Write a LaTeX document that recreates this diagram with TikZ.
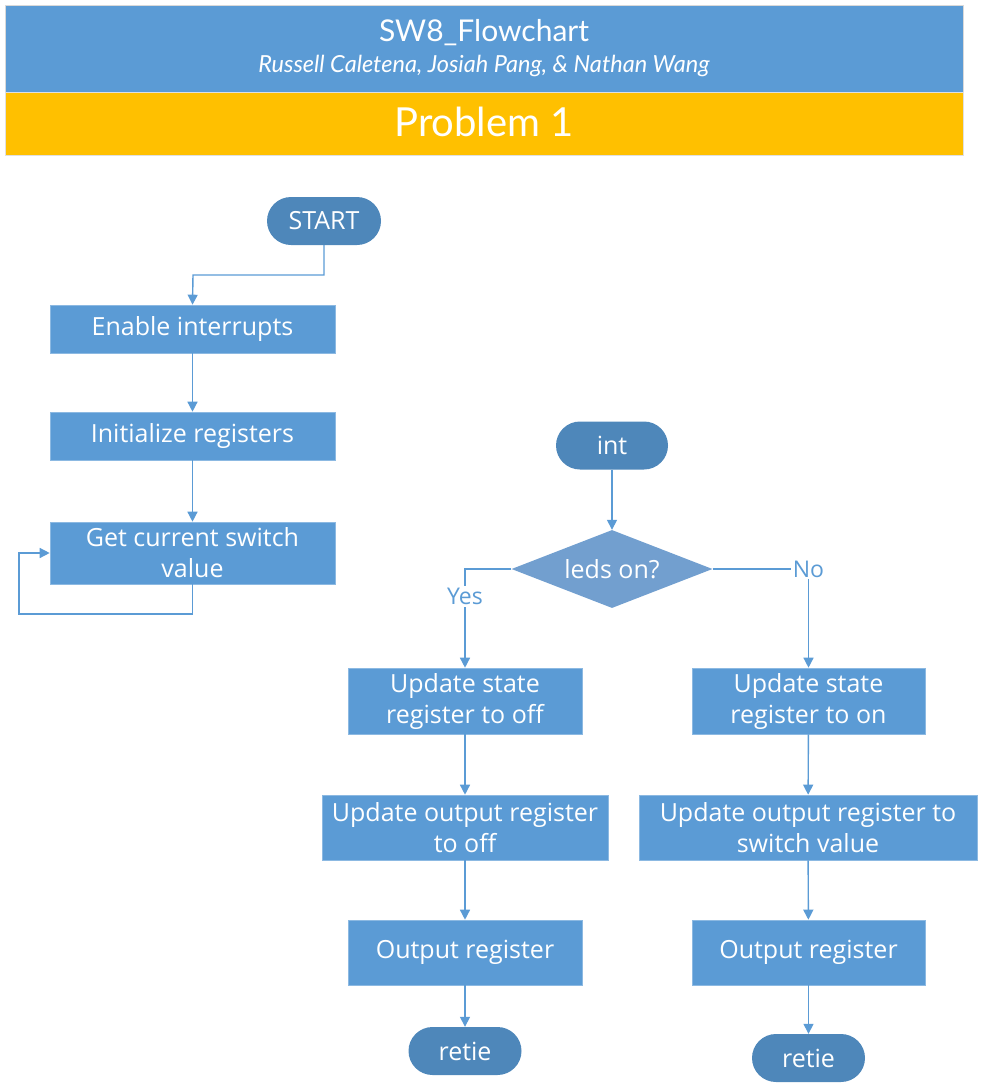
\documentclass[tikz,border=0pt]{standalone}
\usepackage{fontspec}
\setmainfont{Open Sans}
\newfontfamily\headfont{Lato}
\usetikzlibrary{arrows.meta,shapes.geometric}
\definecolor{boxblue}{HTML}{5B9BD5}
\definecolor{pillblue}{HTML}{4E87BA}
\definecolor{diablue}{HTML}{729FCF}
\definecolor{linblue}{HTML}{5B9BD5}
\definecolor{hdryel}{HTML}{FFC000}
\begin{document}
\begin{tikzpicture}[x=1pt,y=-1pt,
  procbox/.style={rectangle,fill=boxblue,draw=boxblue!70!white,line width=0.6pt,text=white,align=center,font=\fontsize{25}{31}\selectfont,inner sep=0pt},
  pill/.style={rectangle,rounded corners=24pt,fill=pillblue,text=white,minimum height=48pt,font=\fontsize{25}{31}\selectfont,inner sep=0pt},
  decision/.style={diamond,fill=diablue,text=white,font=\fontsize{25}{31}\selectfont,inner sep=0pt,minimum width=201pt,minimum height=78pt,aspect=2.58},
  conn/.style={draw=linblue,line width=1.4pt,-{Triangle[width=10pt,length=10pt]}},
  lbl/.style={fill=white,text=linblue,font=\fontsize{23}{26}\selectfont,inner sep=2pt}
]
\useasboundingbox (0,0) rectangle (985,1092);
% header
\node[rectangle,fill=boxblue,draw=black!15,minimum width=958pt,minimum height=87pt,inner sep=0pt] (hdr) at (484,48.5) {};
\node[text=white,font=\headfont\fontsize{30}{34}\selectfont] (title) at (484,33) {SW8\_Flowchart};
\node[text=white,font=\headfont\itshape\fontsize{23.5}{26}\selectfont] (authors) at (484,66) {Russell Caletena, Josiah Pang, \& Nathan Wang};
\node[rectangle,fill=hdryel,draw=black!12,minimum width=958pt,minimum height=63pt,inner sep=0pt] (prob) at (484,123.5) {};
\node[text=white,font=\headfont\fontsize{40}{44}\selectfont] (probt) at (484,122) {Problem 1};

% left column
\node[pill,minimum width=114pt] (start) at (324,221) {START};
\node[procbox,minimum width=285pt,minimum height=48pt] (enable) at (192.5,329) {Enable interrupts};
\node[procbox,minimum width=285pt,minimum height=48pt] (init) at (192.5,436) {Initialize registers};
\node[procbox,minimum width=285pt,minimum height=62pt] (get) at (192.5,553) {Get current switch\\value};
\coordinate (loopa) at (19,614);
\draw[conn] (start.south) |- (193,275) -- (enable.north);
\draw[conn] (enable) -- (init);
\draw[conn] (init) -- (get);
\draw[conn] (get.south) |- (loopa) |- (get.west);

% interrupt routine
\node[pill,minimum width=112pt] (int) at (612,445.5) {int};
\node[decision] (leds) at (612,569) {leds on?};
\node[procbox,minimum width=234pt,minimum height=66pt] (stoff) at (465,701) {Update state\\register to off};
\node[procbox,minimum width=286pt,minimum height=65pt] (outoff) at (465,827.5) {Update output register\\to off};
\node[procbox,minimum width=234pt,minimum height=65pt] (regl) at (465,952.5) {Output register};
\node[pill,minimum width=113pt] (retl) at (465,1051) {retie};

\node[procbox,minimum width=233pt,minimum height=66pt] (ston) at (808.5,701) {Update state\\register to on};
\node[procbox,minimum width=338pt,minimum height=65pt] (outon) at (808,827.5) {Update output register to\\switch value};
\node[procbox,minimum width=233pt,minimum height=65pt] (regr) at (808.5,952.5) {Output register};
\node[pill,minimum width=113pt] (retr) at (808.5,1058) {retie};

\draw[conn] (int) -- (leds.north);
\draw[conn] (leds.west) -| node[lbl,pos=0.64] {Yes} (stoff.north);
\draw[conn] (leds.east) -| node[lbl,pos=0.5] {No} (ston.north);
\draw[conn] (stoff) -- (outoff);
\draw[conn] (outoff) -- (regl);
\draw[conn] (regl) -- (retl);
\draw[conn] (ston) -- (outon);
\draw[conn] (outon) -- (regr);
\draw[conn] (regr) -- (retr);
\end{tikzpicture}
\end{document}
